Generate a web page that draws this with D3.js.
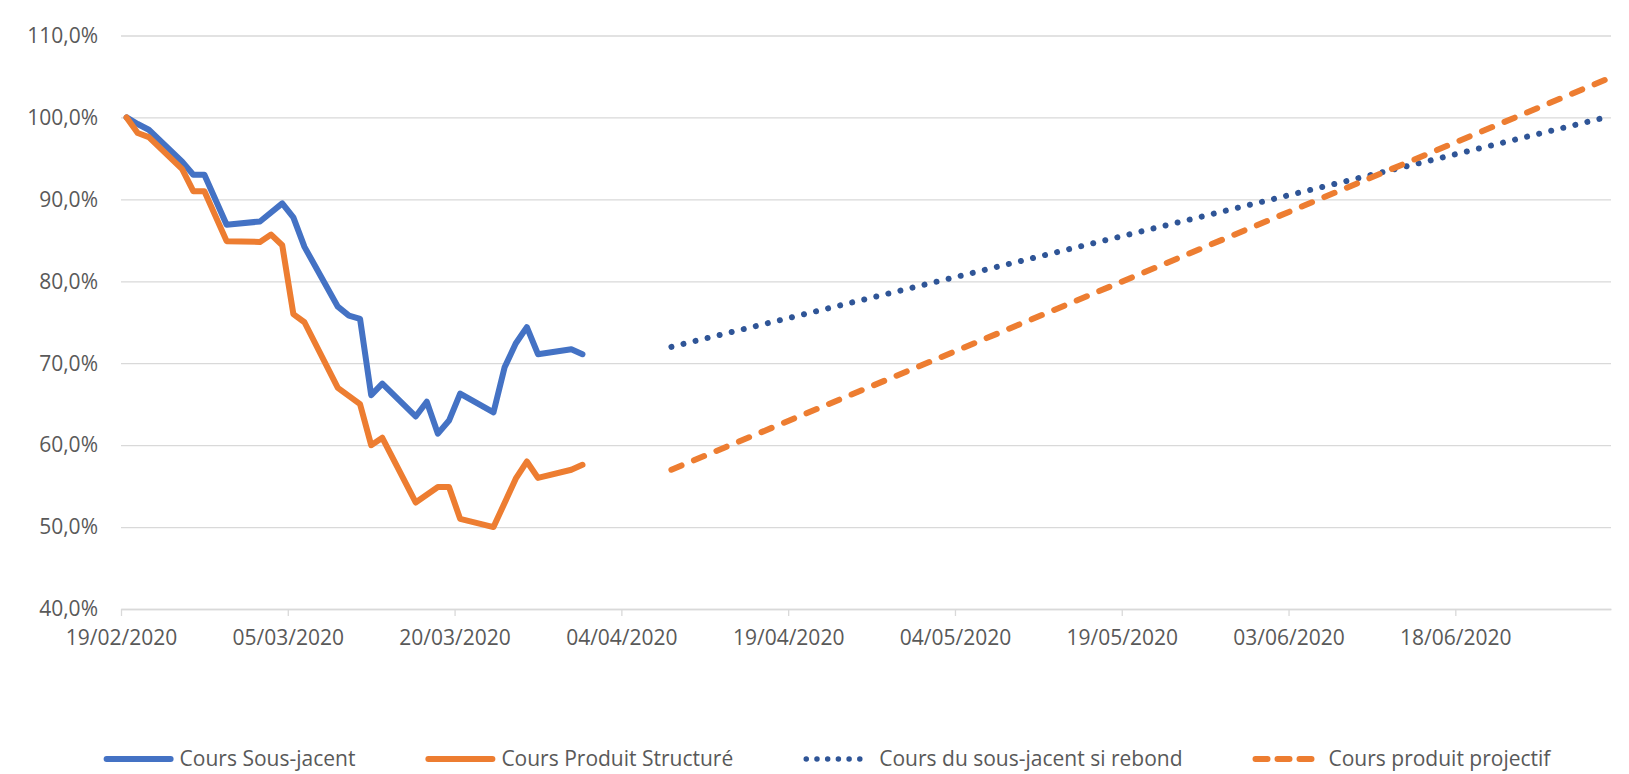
<!DOCTYPE html>
<html>
<head>
<meta charset="utf-8">
<script src="https://cdn.jsdelivr.net/npm/d3@7"></script>
<style>
  body { margin: 0; background: #fff; }
  text { font-family: "Open Sans", sans-serif; fill: #595959; }
</style>
</head>
<body>
<div id="chart"></div>
<script>
// Cours Sous-jacent (solid blue)
var sousDates = ["2020-02-19", "2020-02-20", "2020-02-21", "2020-02-24", "2020-02-25", "2020-02-26",
  "2020-02-28", "2020-03-02", "2020-03-04", "2020-03-05", "2020-03-06", "2020-03-09", "2020-03-10",
  "2020-03-11", "2020-03-12", "2020-03-13", "2020-03-16", "2020-03-17", "2020-03-18", "2020-03-19",
  "2020-03-20", "2020-03-23", "2020-03-24", "2020-03-25", "2020-03-26", "2020-03-27", "2020-03-30",
  "2020-03-31"];
var sousValues = [100, 99.2, 98.5, 94.6, 93.0, 93.0, 86.9, 87.3, 89.5, 87.8, 84.2, 76.9, 75.8,
  75.4, 66.1, 67.5, 63.5, 65.3, 61.4, 63.0, 66.3, 64.0, 69.5, 72.4, 74.4, 71.1, 71.7, 71.1];

// Cours Produit Structuré (solid orange)
var produitDates = ["2020-02-19", "2020-02-20", "2020-02-21", "2020-02-24", "2020-02-25", "2020-02-26",
  "2020-02-28", "2020-03-02", "2020-03-03", "2020-03-04", "2020-03-05", "2020-03-06", "2020-03-09",
  "2020-03-11", "2020-03-12", "2020-03-13", "2020-03-16", "2020-03-18", "2020-03-19", "2020-03-20",
  "2020-03-23", "2020-03-25", "2020-03-26", "2020-03-27", "2020-03-30", "2020-03-31"];
var produitValues = [100, 98.1, 97.6, 93.7, 91.0, 91.0, 84.9, 84.8, 85.7, 84.4, 76.0, 75.0, 67.0,
  65.0, 60.0, 60.9, 53.0, 54.9, 54.9, 51.0, 50.0, 55.9, 58.0, 56.0, 57.0, 57.6];

// projections
var reboundDates = ["2020-04-08", "2020-07-01"];
var reboundValues = [72.0, 100.0];
var projectifDates = ["2020-04-08", "2020-07-01"];
var projectifValues = [57.0, 104.6];

var yTicks = [40, 50, 60, 70, 80, 90, 100, 110];
var xTickDates = ["2020-02-19", "2020-03-05", "2020-03-20", "2020-04-04", "2020-04-19",
  "2020-05-04", "2020-05-19", "2020-06-03", "2020-06-18"];
var xDomain = ["2020-02-19", "2020-07-02"];

var seriesNames = ["Cours Sous-jacent", "Cours Produit Structuré",
  "Cours du sous-jacent si rebond", "Cours produit projectif"];

var parseDate = d3.timeParse("%Y-%m-%d");
var fmtDate = d3.timeFormat("%d/%m/%Y");
var fmtPct = function(v) { return v.toFixed(1).replace(".", ",") + "%"; };

var svgWidth = 1629, svgHeight = 774;
var plotLeft = 121, plotRight = 1611, plotTop = 35.5, plotBottom = 609;

var svg = d3.select("#chart").append("svg")
  .attr("width", svgWidth)
  .attr("height", svgHeight);

svg.append("rect").attr("width", svgWidth).attr("height", svgHeight).attr("fill", "#fff");

var x = d3.scaleTime()
  .domain(xDomain.map(parseDate))
  .range([plotLeft, plotRight]);

var y = d3.scaleLinear()
  .domain([40, 110])
  .range([plotBottom, plotTop]);

// gridlines
svg.append("g")
  .attr("transform", `translate(${plotLeft},0)`)
  .call(d3.axisLeft(y).tickValues(yTicks).tickSize(-(plotRight - plotLeft)).tickFormat(""))
  .call(g => g.select(".domain").remove())
  .call(g => g.selectAll("line").attr("stroke", "#d9d9d9").attr("stroke-width", 1.3));

// y labels
svg.append("g")
  .selectAll("text")
  .data(yTicks)
  .enter()
  .append("text")
  .attr("x", 98)
  .attr("y", d => y(d))
  .attr("dy", "0.35em")
  .attr("text-anchor", "end")
  .attr("font-size", "21px")
  .text(fmtPct);

// x axis
var xAxis = svg.append("g")
  .attr("transform", `translate(0,${plotBottom})`)
  .call(d3.axisBottom(x).tickValues(xTickDates.map(parseDate)).tickSize(7).tickSizeOuter(0).tickFormat(fmtDate));
xAxis.select(".domain").attr("stroke", "#d9d9d9").attr("stroke-width", 1.3);
xAxis.selectAll(".tick line").attr("stroke", "#d9d9d9").attr("stroke-width", 1.3);
xAxis.selectAll(".tick text")
  .attr("y", 36)
  .attr("dy", 0)
  .attr("font-size", "21px")
  .attr("font-family", "Open Sans, sans-serif")
  .attr("fill", "#595959");

// points sit in the middle of their day on the date axis
function toPoints(dates, values) {
  return dates.map(function(d, i) {
    return { date: d3.timeHour.offset(parseDate(d), 12), value: values[i] };
  });
}

var line = d3.line()
  .x(d => x(d.date))
  .y(d => y(d.value));

var series = [
  { pts: toPoints(sousDates, sousValues), color: "#4472C4", width: 6, dash: null },
  { pts: toPoints(produitDates, produitValues), color: "#ED7D31", width: 6, dash: null },
  { pts: toPoints(reboundDates, reboundValues), color: "#2F5597", width: 6, dash: "0.01 12.4" },
  { pts: toPoints(projectifDates, projectifValues), color: "#ED7D31", width: 6, dash: "11 13.4" }
];

series.forEach(function(s) {
  svg.append("path")
    .datum(s.pts)
    .attr("d", line)
    .attr("fill", "none")
    .attr("stroke", s.color)
    .attr("stroke-width", s.width)
    .attr("stroke-linejoin", "round")
    .attr("stroke-linecap", "round")
    .attr("stroke-dasharray", s.dash);
});

// legend
var legendSamples = [
  { color: "#4472C4", width: 6, dash: null },
  { color: "#ED7D31", width: 6, dash: null },
  { color: "#2F5597", width: 5.5, dash: "0.01 10.7" },
  { color: "#ED7D31", width: 6, dash: "12 10" }
];
var legendY = 759;
var legend = svg.append("g");
var cursor = 0;
seriesNames.forEach(function(name, i) {
  var s = legendSamples[i];
  var g = legend.append("g").attr("transform", `translate(${cursor},0)`);
  g.append("line")
    .attr("x1", 3).attr("x2", 67)
    .attr("y1", legendY).attr("y2", legendY)
    .attr("stroke", s.color)
    .attr("stroke-width", s.width)
    .attr("stroke-linecap", "round")
    .attr("stroke-dasharray", s.dash);
  var t = g.append("text")
    .attr("x", 76)
    .attr("y", legendY)
    .attr("dy", "0.35em")
    .attr("font-size", "21px")
    .text(name);
  cursor += 76 + t.node().getComputedTextLength() + 70;
});
var legendWidth = cursor - 70;
legend.attr("transform", `translate(${827 - legendWidth / 2},0)`);
</script>
</body>
</html>
